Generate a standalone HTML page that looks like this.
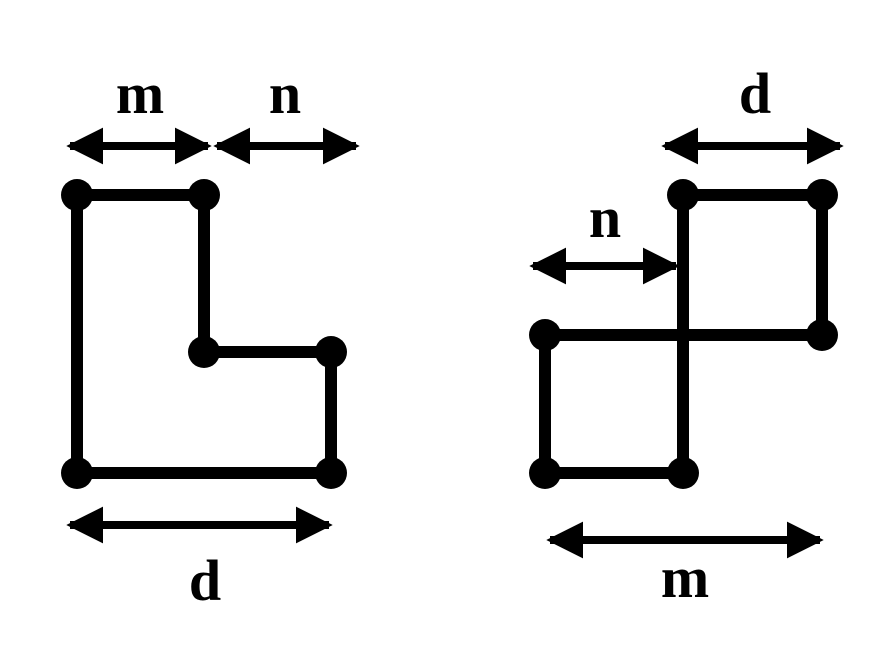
<!DOCTYPE html>
<html><head><meta charset="utf-8"><style>html,body{margin:0;padding:0;background:#fff}</style></head>
<body>
<svg width="895" height="648" viewBox="0 0 895 648" xmlns="http://www.w3.org/2000/svg">
<defs>
<marker id="a" viewBox="0 0 10 10" refX="9" refY="5" markerWidth="4.6" markerHeight="4.6" markerUnits="strokeWidth" orient="auto-start-reverse">
<path d="M0,0 L10,5 L0,10 Z" fill="#000"/>
</marker>
</defs>
<g stroke="#000" stroke-width="12" fill="none" stroke-linecap="round">
<path d="M77,195 H204 V352 H331 V473 H77 Z"/>
<path d="M683,195 H822 V335 H545 V473 H683 V195"/>
</g>
<g fill="#000">
<circle cx="77" cy="195" r="16"/><circle cx="204" cy="195" r="16"/>
<circle cx="204" cy="352" r="16"/><circle cx="331" cy="352" r="16"/>
<circle cx="77" cy="473" r="16"/><circle cx="331" cy="473" r="16"/>
<circle cx="683" cy="195" r="16"/><circle cx="822" cy="195" r="16"/>
<circle cx="545" cy="335" r="16"/><circle cx="822" cy="335" r="16"/>
<circle cx="545" cy="473" r="16"/><circle cx="683" cy="473" r="16"/>
</g>
<g stroke="#000" stroke-width="8" marker-start="url(#a)" marker-end="url(#a)">
<line x1="70" y1="146" x2="208" y2="146"/>
<line x1="217" y1="146" x2="356" y2="146"/>
<line x1="70" y1="525" x2="329" y2="525"/>
<line x1="665" y1="146" x2="840" y2="146"/>
<line x1="533" y1="266" x2="676" y2="266"/>
<line x1="550" y1="540" x2="820" y2="540"/>
</g>
<g font-family="'Liberation Serif',serif" font-weight="bold" font-size="58" text-anchor="middle" fill="#000">
<text x="140" y="113">m</text>
<text x="285" y="113">n</text>
<text x="205" y="600">d</text>
<text x="755" y="113">d</text>
<text x="605" y="237">n</text>
<text x="685" y="597">m</text>
</g>
</svg>
</body></html>
